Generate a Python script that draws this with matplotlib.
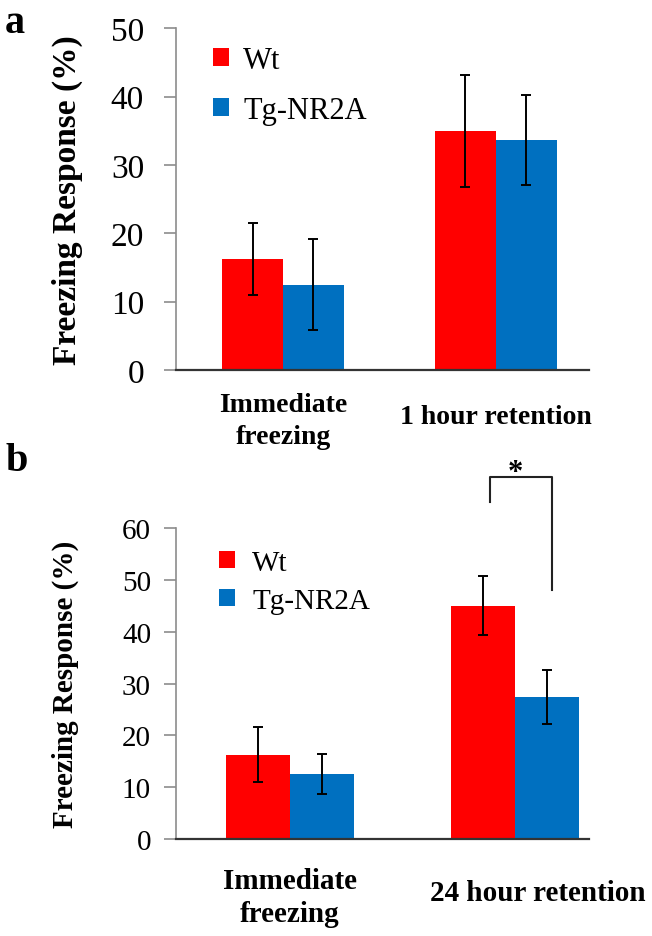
import matplotlib.pyplot as plt
import numpy as np

plt.rcParams['font.family'] = ['Liberation Serif', 'DejaVu Serif']

groups_a = ["Immediate\nfreezing", "1 hour retention"]
wt_a = [16.2, 35.0]
wt_a_err = [5.3, 8.2]
tg_a = [12.5, 33.6]
tg_a_err = [6.7, 6.6]

groups_b = ["Immediate\nfreezing", "24 hour retention"]
wt_b = [16.3, 45.0]
wt_b_err = [5.3, 5.7]
tg_b = [12.5, 27.4]
tg_b_err = [3.9, 5.2]

red = "#FF0000"
blue = "#0070C0"

fig = plt.figure(figsize=(6.52, 9.37), dpi=100)


def panel(rect, wt, wt_err, tg, tg_err, ymax, xlim, w, fs_tick, fs_lab, tpad, lpad):
    ax = fig.add_axes(rect)
    x = np.arange(len(wt))
    ax.bar(x - w / 2, wt, w, color=red, yerr=wt_err, capsize=3.5,
           error_kw=dict(elinewidth=1.4, capthick=1.4, ecolor="black"), label="Wt")
    ax.bar(x + w / 2, tg, w, color=blue, yerr=tg_err, capsize=3.5,
           error_kw=dict(elinewidth=1.4, capthick=1.4, ecolor="black"), label="Tg-NR2A")
    ax.set_ylim(0, ymax)
    ax.set_xlim(*xlim)
    ax.set_yticks(np.arange(0, ymax + 1, 10))
    for s in ["top", "right"]:
        ax.spines[s].set_visible(False)
    ax.spines["left"].set_color("#8c8c8c")
    ax.spines["left"].set_linewidth(1.2)
    ax.spines["bottom"].set_color("#333333")
    ax.spines["bottom"].set_linewidth(1.6)
    ax.tick_params(axis="y", colors="#8c8c8c", length=9, width=1.2, labelsize=fs_tick,
                   labelcolor="black", pad=tpad)
    ax.set_xticks([])
    ax.set_ylabel("Freezing Response (%)", fontsize=fs_lab, fontweight="bold", labelpad=lpad)
    return ax, x


# panel a
ax1, xa = panel([0.270, 0.6041, 0.6334, 0.3646], wt_a, wt_a_err, tg_a, tg_a_err,
                50, (-0.502, 1.437), 0.286, 24, 24, 14, 20)
ax1.legend(loc="upper left", bbox_to_anchor=(0.022, 1.03), frameon=False, fontsize=22,
           handlelength=0.55, handleheight=0.55, handletextpad=0.45, labelspacing=0.7)
ax1.text(0, -0.065, groups_a[0], transform=ax1.get_xaxis_transform(), ha="center", va="top",
         fontsize=20, fontweight="bold", linespacing=1.35)
ax1.text(1, -0.10, groups_a[1], transform=ax1.get_xaxis_transform(), ha="center", va="top",
         fontsize=20, fontweight="bold")
fig.text(0.008, 0.995, "a", fontsize=29, fontweight="bold", va="top")

# panel b
ax2, xb = panel([0.270, 0.1035, 0.6334, 0.3319], wt_b, wt_b_err, tg_b, tg_b_err,
                60, (-0.505, 1.327), 0.284, 21, 21, 9, 31)
ax2.legend(loc="upper left", bbox_to_anchor=(0.04, 1.015), frameon=False, fontsize=21,
           handlelength=0.55, handleheight=0.55, handletextpad=0.6, labelspacing=0.42)
ax2.text(0, -0.09, groups_b[0], transform=ax2.get_xaxis_transform(), ha="center", va="top",
         fontsize=21, fontweight="bold", linespacing=1.3)
ax2.text(1.1, -0.13, groups_b[1], transform=ax2.get_xaxis_transform(), ha="center", va="top",
         fontsize=21, fontweight="bold")
fig.text(0.008, 0.527, "b", fontsize=29, fontweight="bold", va="top")

# significance bracket
ax2.plot([0.888, 0.888, 1.163, 1.163], [65.1, 69.9, 69.9, 48.1], color="#222222",
         lw=1.5, clip_on=False)
ax2.text(1.002, 68.0, "*", ha="center", va="bottom", fontsize=22, fontweight="bold")

fig.savefig("out.png", dpi=100)
